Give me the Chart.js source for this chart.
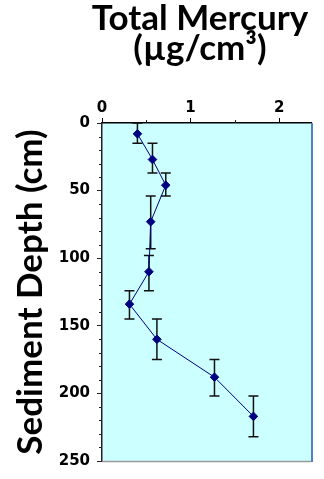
<!DOCTYPE html>
<html>
<head>
<meta charset="utf-8">
<script src="https://cdn.jsdelivr.net/npm/chart.js"></script>
<style>
  html, body { margin: 0; padding: 0; background: #fff; }
  canvas { display: block; }
</style>
</head>
<body>
<canvas id="hgChart" width="324" height="479"></canvas>
<script>
// core sections: midpoint, top and bottom of each slice (cm)
const depthMid = [8, 27, 46, 73, 110, 134, 160, 188, 217];
const depthTop = [0, 15, 37, 54, 98, 124, 145, 175, 202];
const depthBottom = [15, 37, 54, 93, 124, 145, 175, 202, 232];
// total mercury per slice (ug/cm3)
const mercury = [0.40, 0.57, 0.72, 0.55, 0.53, 0.31, 0.62, 1.27, 1.71];

const xTicks = [0, 1, 2];
const xMinorTicks = [0.5, 1.5];
const yMinorTicks = [10, 20, 30, 40, 60, 70, 80, 90, 110, 120, 130, 140, 160, 170, 180, 190, 210, 220, 230, 240];
const titleLines = ['Total Mercury', '(\u00b5g/cm\u00b3)'];

const tickFont = { family: 'DejaVu Sans', weight: 'bold', size: 15 };

// background, frame, minor tick marks and the two-line heading
const plotFrame = {
  id: 'plotFrame',
  beforeDraw(chart) {
    const { ctx, chartArea: a } = chart;
    ctx.save();
    ctx.fillStyle = '#ccffff';
    ctx.fillRect(a.left, a.top, a.right - a.left, a.bottom - a.top);
    ctx.restore();
  },
  afterDraw(chart) {
    const { ctx, chartArea: a, scales } = chart;
    ctx.save();
    ctx.lineWidth = 1.5;
    ctx.strokeStyle = '#999';
    ctx.beginPath();
    ctx.moveTo(a.left, a.bottom + 0.5);
    ctx.lineTo(a.right, a.bottom + 0.5);
    ctx.stroke();
    ctx.lineWidth = 2;
    ctx.strokeStyle = '#4f81c7';
    ctx.beginPath();
    ctx.moveTo(a.right + 1, a.top);
    ctx.lineTo(a.right + 1, a.bottom + 1);
    ctx.stroke();

    ctx.lineWidth = 1;
    ctx.strokeStyle = '#222';
    ctx.beginPath();
    yMinorTicks.forEach(v => {
      const y = Math.round(scales.y.getPixelForValue(v)) + 0.5;
      ctx.moveTo(a.left - 3, y);
      ctx.lineTo(a.left, y);
    });
    xMinorTicks.forEach(v => {
      const x = Math.round(scales.x.getPixelForValue(v)) + 0.5;
      ctx.moveTo(x, a.top - 3);
      ctx.lineTo(x, a.top);
    });
    ctx.stroke();

    ctx.fillStyle = '#000';
    ctx.font = 'bold 35px Lato';
    ctx.textAlign = 'center';
    ctx.textBaseline = 'alphabetic';
    ctx.fillText(titleLines[0], 200, 30);
    ctx.fillText(titleLines[1], 200, 60);
    ctx.restore();
  }
};

// vertical bars spanning each core slice
const sliceBars = {
  id: 'sliceBars',
  beforeDatasetsDraw(chart) {
    const { ctx, scales } = chart;
    ctx.save();
    ctx.strokeStyle = '#111';
    ctx.lineWidth = 1.5;
    mercury.forEach((v, i) => {
      const x = scales.x.getPixelForValue(v);
      const y1 = scales.y.getPixelForValue(depthTop[i]);
      const y2 = scales.y.getPixelForValue(depthBottom[i]);
      ctx.beginPath();
      ctx.moveTo(x, y1);
      ctx.lineTo(x, y2);
      ctx.moveTo(x - 5, y1);
      ctx.lineTo(x + 5, y1);
      ctx.moveTo(x - 5, y2);
      ctx.lineTo(x + 5, y2);
      ctx.stroke();
    });
    ctx.restore();
  }
};

new Chart(document.getElementById('hgChart'), {
  type: 'scatter',
  data: {
    datasets: [{
      data: mercury.map((v, i) => ({ x: v, y: depthMid[i] })),
      showLine: true,
      borderColor: '#000080',
      borderWidth: 1,
      pointStyle: 'rectRot',
      pointRadius: 4.3,
      pointBackgroundColor: '#000080',
      pointBorderColor: '#000080'
    }]
  },
  options: {
    responsive: false,
    devicePixelRatio: 1,
    animation: false,
    layout: { padding: { top: 68, left: 0, right: 13, bottom: 18 } },
    plugins: {
      legend: { display: false },
      tooltip: { enabled: false },
      title: { display: false }
    },
    scales: {
      x: {
        type: 'linear',
        position: 'top',
        min: 0,
        max: 2.36,
        afterBuildTicks(scale) {
          scale.ticks = xTicks.map(v => ({ value: v }));
        },
        afterFit(scale) { scale.height = 55; },
        ticks: { font: tickFont, color: '#000', padding: 1, maxRotation: 0 },
        grid: { drawOnChartArea: false, tickLength: 5, color: '#000' },
        border: { color: '#000', width: 1.5 }
      },
      y: {
        type: 'linear',
        reverse: true,
        min: 0,
        max: 250,
        afterFit(scale) { scale.width = 102; },
        ticks: { stepSize: 50, font: tickFont, color: '#000', padding: 7 },
        grid: { drawOnChartArea: false, tickLength: 5, color: '#222' },
        border: { color: '#222', width: 1.5 },
        title: {
          display: true,
          text: 'Sediment Depth (cm)',
          font: { family: 'Lato', weight: 'bold', size: 35 },
          color: '#000',
          padding: { top: 10, bottom: 0 }
        }
      }
    }
  },
  plugins: [plotFrame, sliceBars]
});
</script>
</body>
</html>
